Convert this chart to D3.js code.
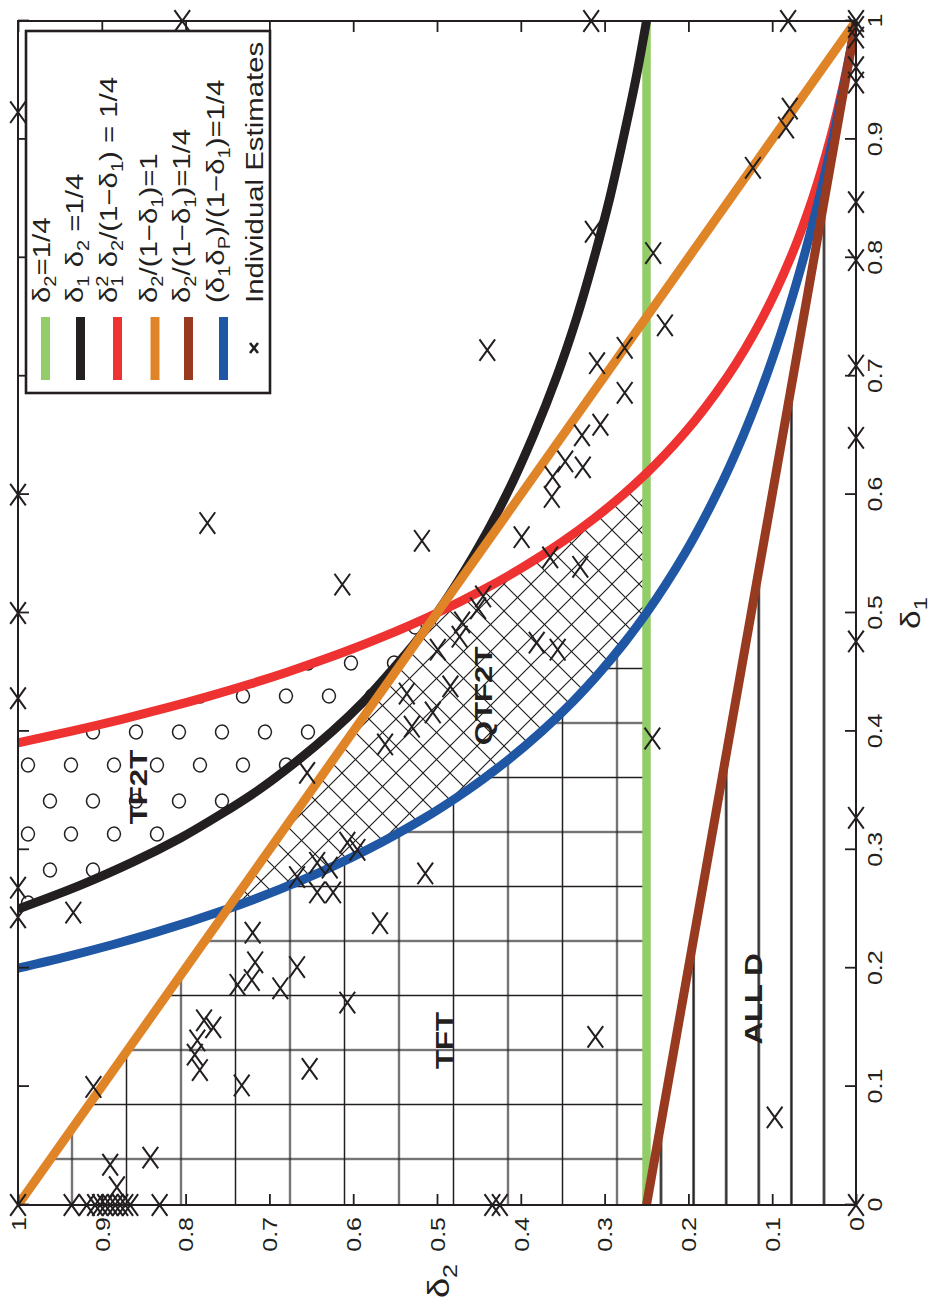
<!DOCTYPE html>
<html><head><meta charset="utf-8">
<script src="https://cdn.jsdelivr.net/npm/d3@7"></script>
<style>
body{margin:0;background:#fff}
svg{display:block}
text{font-family:"Liberation Sans",Arial,Helvetica,sans-serif;fill:#231f20}
</style>
</head><body>
<svg id="c" width="931" height="1302"></svg>
<script>
// ---------- data ----------
const delta1Ticks = [0,0.1,0.2,0.3,0.4,0.5,0.6,0.7,0.8,0.9,1];
const delta2Ticks = [0,0.1,0.2,0.3,0.4,0.5,0.6,0.7,0.8,0.9,1];
const tickLabels = ["0","0.1","0.2","0.3","0.4","0.5","0.6","0.7","0.8","0.9","1"];

// curves as [delta1, delta2]
const greenCurve = [[0,0.25],[1,0.25]];
const blackCurve = [[0.25,1],[0.27,0.926],[0.29,0.862],[0.31,0.806],[0.33,0.758],[0.35,0.714],[0.375,0.667],[0.40,0.625],[0.425,0.588],[0.45,0.556],[0.475,0.526],[0.50,0.5],[0.55,0.455],[0.60,0.417],[0.65,0.385],[0.70,0.357],[0.75,0.333],[0.80,0.3125],[0.85,0.294],[0.90,0.278],[0.95,0.263],[1,0.25]];
const redCurve = [[0.3904,1],[0.40,0.9375],[0.41,0.8775],[0.42,0.822],[0.43,0.7707],[0.44,0.7231],[0.45,0.679],[0.46,0.638],[0.47,0.5998],[0.48,0.5642],[0.49,0.531],[0.50,0.5],[0.52,0.4438],[0.54,0.3944],[0.56,0.3508],[0.58,0.3121],[0.60,0.2778],[0.618,0.25],[0.65,0.2071],[0.70,0.1531],[0.75,0.1111],[0.80,0.0781],[0.85,0.0519],[0.90,0.0309],[0.95,0.0139],[1,0]];
const orangeCurve = [[0,1],[1,0]];
const brownCurve = [[0,0.25],[1,0]];
const blueCurve = [[0.20,1],[0.21,0.9405],[0.22,0.8864],[0.23,0.837],[0.25,0.75],[0.275,0.659],[0.30,0.5833],[0.325,0.5192],[0.35,0.4643],[0.375,0.4167],[0.40,0.375],[0.425,0.3382],[0.45,0.3056],[0.475,0.2763],[0.50,0.25],[0.55,0.2045],[0.60,0.1667],[0.65,0.1346],[0.70,0.1071],[0.75,0.0833],[0.80,0.0625],[0.85,0.0441],[0.90,0.0278],[0.95,0.0132],[1,0]];

const curveColors = {green:"#93cd6a", black:"#231f20", red:"#ee3131", orange:"#e08428", brown:"#973a1f", blue:"#1f57a5"};

// individual estimates [delta1, delta2]
const estimates = [
 [0.923,1],[1,0.804],[1,0.316],[1,0.081],[1,0],[0.995,0],[0.986,0],[0.961,0],[0.948,0],[0.847,0],[0.798,0],[0.709,0],[0.648,0],[0.476,0],[0.327,0],[0,0],
 [0.600,1],[0.500,1],[0.428,1],[0.268,1],[0.243,1],[0,1],
 [0,0.936],[0,0.918],[0,0.908],[0,0.902],[0,0.896],[0,0.890],[0,0.884],[0,0.878],[0,0.872],[0,0.866],[0,0.831],[0,0.434],[0,0.425],
 [0.822,0.314],[0.926,0.079],[0.910,0.0835],[0.876,0.123],[0.804,0.242],[0.743,0.228],
 [0.724,0.276],[0.686,0.276],[0.576,0.774],[0.722,0.440],[0.711,0.309],[0.659,0.305],[0.650,0.327],[0.628,0.347],[0.623,0.326],
 [0.615,0.362],[0.598,0.363],[0.561,0.518],[0.564,0.399],[0.524,0.613],[0.547,0.365],[0.539,0.329],[0.514,0.445],[0.504,0.451],
 [0.492,0.470],[0.480,0.473],[0.469,0.499],[0.475,0.381],[0.469,0.356],[0.394,0.243],[0.432,0.536],[0.404,0.530],[0.389,0.562],
 [0.416,0.505],[0.438,0.484],[0.300,0.595],[0.285,0.628],[0.306,0.607],[0.289,0.643],[0.264,0.643],[0.264,0.624],[0.280,0.514],
 [0.238,0.568],[0.365,0.655],[0.247,0.934],[0.230,0.720],[0.205,0.717],[0.201,0.667],[0.186,0.738],[0.190,0.721],[0.183,0.687],
 [0.156,0.778],[0.150,0.767],[0.139,0.786],[0.127,0.789],[0.114,0.783],[0.101,0.733],[0.0997,0.910],[0.034,0.890],[0.015,0.882],
 [0.040,0.842],[0.171,0.607],[0.142,0.311],[0.115,0.652],[0.074,0.097],[0.277,0.667]
];

const legendLabels = ["δ2=1/4","δ1 δ2 =1/4","δ1² δ2/(1−δ1) = 1/4","δ2/(1−δ1)=1","δ2/(1−δ1)=1/4","(δ1δP)/(1−δ1)=1/4","Individual Estimates"];
const regionLabels = [{t:"TF2T",d1:0.353,d2:0.846},{t:"QTF2T",d1:0.43,d2:0.434},{t:"TFT",d1:0.139,d2:0.481},{t:"ALL D",d1:0.174,d2:0.112}];

// ---------- layout ----------
const W = 1184, H = 838, S = 1.25; // S: stretch of text along its reading direction (reference is stretched)
const x = d3.scaleLinear().domain([0,1]).range([0,W]);
const y = d3.scaleLinear().domain([0,1]).range([H,0]);
const svg = d3.select("#c");
const defs = svg.append("defs");
const g = svg.append("g").attr("transform","translate(18,1205) rotate(-90)");

defs.append("clipPath").attr("id","plotclip").append("rect").attr("x",0).attr("y",0).attr("width",W).attr("height",H);

// hatch patterns (user space = rotated group coords)
const grid = defs.append("pattern").attr("id","pGrid").attr("patternUnits","userSpaceOnUse")
  .attr("x",46-27.25).attr("y",54-27.25).attr("width",54.5).attr("height",54.5);
grid.append("path").attr("d","M27.25,0V54.5M0,27.25H54.5").attr("stroke","#231f20").attr("stroke-width",1.5).attr("fill","none");

const cross = defs.append("pattern").attr("id","pCross").attr("patternUnits","userSpaceOnUse")
  .attr("x",0).attr("y",0).attr("width",27).attr("height",27);
cross.append("path").attr("d","M0,0L27,27M0,27L27,0M-2,25L2,29M25,-2L29,2M-2,2L2,-2M25,29L29,25").attr("stroke","#231f20").attr("stroke-width",1.2).attr("fill","none");

const circ = defs.append("pattern").attr("id","pCirc").attr("patternUnits","userSpaceOnUse")
  .attr("x",0).attr("y",0).attr("width",69).attr("height",43);
[[59,32],[26,10]].forEach(c=>circ.append("ellipse").attr("cx",c[0]).attr("cy",c[1]).attr("rx",7).attr("ry",6.4)
  .attr("fill","none").attr("stroke","#231f20").attr("stroke-width",1.5));

const hl = defs.append("pattern").attr("id","pLines").attr("patternUnits","userSpaceOnUse")
  .attr("x",0).attr("y",643-16.3).attr("width",20).attr("height",32.6);
hl.append("path").attr("d","M0,16.3H20").attr("stroke","#231f20").attr("stroke-width",2.4);

const plot = g.append("g").attr("clip-path","url(#plotclip)");
const poly = d3.line().x(d=>x(d[0])).y(d=>y(d[1]));

// regions built from the curve data
const tf2t = blackCurve.filter(d=>d[0]<=0.5).concat(redCurve.filter(d=>d[0]<=0.5).slice().reverse());
const qtf2t = redCurve.filter(d=>d[0]>=0.5 && d[0]<=0.618).concat(blueCurve.filter(d=>d[0]>=0.25 && d[0]<=0.5).slice().reverse());
const tft = [orangeCurve[0]].concat(blueCurve.filter(d=>d[0]>=0.25 && d[0]<=0.5)).concat([greenCurve[0]]);
const alld = brownCurve.concat([[0,0]]);
[[tft,"pGrid"],[qtf2t,"pCross"],[tf2t,"pCirc"],[alld,"pLines"]].forEach(r=>{
  plot.append("path").attr("d",poly(r[0])+"Z").attr("fill",`url(#${r[1]})`);
});

// curves
const line = d3.line().x(d=>x(d[0])).y(d=>y(d[1])).curve(d3.curveMonotoneX);
[[greenCurve,"green",8.5],[blackCurve,"black",9],[redCurve,"red",9],[blueCurve,"blue",9],[orangeCurve,"orange",9],[brownCurve,"brown",9]].forEach(c=>{
  plot.append("path").attr("d",line(c[0])).attr("fill","none").attr("stroke",curveColors[c[1]]).attr("stroke-width",c[2]);
});

// axes
const fs = 20;
const axB = g.append("g").attr("transform",`translate(0,${H})`)
  .call(d3.axisBottom(x).tickValues(delta1Ticks).tickFormat((d,i)=>tickLabels[i]).tickSizeInner(-11).tickSizeOuter(0).tickPadding(12));
const axL = g.append("g")
  .call(d3.axisLeft(y).tickValues(delta2Ticks).tickFormat((d,i)=>tickLabels[i]).tickSizeInner(-11).tickSizeOuter(0).tickPadding(12));
const axT = g.append("g").call(d3.axisTop(x).tickValues(delta1Ticks).tickFormat("").tickSizeInner(-11).tickSizeOuter(0));
const axR = g.append("g").attr("transform",`translate(${W},0)`).call(d3.axisRight(y).tickValues(delta2Ticks).tickFormat("").tickSizeInner(-11).tickSizeOuter(0));
[axB,axL,axT,axR].forEach(a=>{
  a.selectAll("line").attr("stroke","#231f20").attr("stroke-width",1.8);
  a.select(".domain").remove();
});
axB.selectAll("text").attr("font-size",fs).attr("fill","#231f20").attr("y",0).attr("dy",0)
  .attr("transform",`translate(0,${11+14.5}) scale(${S},1)`);
axL.selectAll("text").attr("font-size",fs).attr("fill","#231f20").attr("x",0).attr("dy","0.36em")
  .attr("transform",`translate(-12,0) scale(${S},1)`);
g.append("rect").attr("x",0).attr("y",0).attr("width",W).attr("height",H).attr("fill","none").attr("stroke","#231f20").attr("stroke-width",2);

// axis titles
const t1 = g.append("text").attr("transform",`translate(${x(0.5)},${H+64}) scale(${S},1)`).attr("text-anchor","middle").attr("font-size",27);
t1.append("tspan").text("δ");
t1.append("tspan").attr("font-size",19).attr("dy",7).text("1");
const t2 = g.append("text").attr("transform",`translate(-76,${y(0.5)+12}) scale(${S},1)`).attr("text-anchor","middle").attr("font-size",29);
t2.append("tspan").text("δ");
t2.append("tspan").attr("font-size",20).attr("dy",8).text("2");

// region labels
regionLabels.forEach(r=>{
  g.append("text").attr("transform",`translate(${x(r.d1)},${y(r.d2)}) scale(1.3,1)`).attr("text-anchor","middle")
   .attr("font-size",24).attr("font-weight","bold").text(r.t);
});

// markers
const mk = "M-10.8,-7.8L10.8,7.8M-10.8,7.8L10.8,-7.8";
g.append("g").selectAll("path").data(estimates).join("path")
  .attr("transform",d=>`translate(${x(d[0])},${y(d[1])})`).attr("d",mk)
  .attr("stroke","#231f20").attr("stroke-width",2).attr("fill","none");

// legend
const lg = g.append("g");
lg.append("rect").attr("x",812).attr("y",8).attr("width",362).attr("height",244).attr("fill","#fff").attr("stroke","#231f20").attr("stroke-width",2.6);
const rowBase = [32,65,99,139,172,206,245];
const rowCenter = [27.5,62.5,99.5,137,170.5,205.5,236];
const sw = ["green","black","red","orange","brown","blue"];
sw.forEach((c,i)=>{
  lg.append("line").attr("x1",825).attr("x2",888).attr("y1",rowCenter[i]).attr("y2",rowCenter[i])
    .attr("stroke",curveColors[c]).attr("stroke-width",9);
});
lg.append("path").attr("transform",`translate(857,${rowCenter[6]})`).attr("d","M-5,-4L5,4M-5,4L5,-4").attr("stroke","#231f20").attr("stroke-width",2.6);

function rich(t, parts){
  parts.forEach(p=>{
    if(p[0]==="n") t.append("tspan").text(p[1]);
    else if(p[0]==="s") t.append("tspan").attr("font-size",16).attr("dy",6).text(p[1]);
    else if(p[0]==="u") t.append("tspan").attr("font-size",16).attr("dy",-9).text(p[1]);
    else if(p[0]==="r") t.append("tspan").attr("dy",p[1]).text(p[2]);
    else if(p[0]==="k") t.append("tspan").attr("font-size",16).attr("dx",p[1]).attr("dy",p[2]).text(p[3]);
  });
}
const legendParts = [
  [["n","δ"],["s","2"],["r",-6,"=1/4"]],
  [["n","δ"],["s","1"],["r",-6," δ"],["s","2"],["r",-6," =1/4"]],
  [["n","δ"],["u","2"],["k",-8.9,15,"1"],["r",-6," δ"],["s","2"],["r",-6,"/(1−δ"],["s","1"],["r",-6,") = 1/4"]],
  [["n","δ"],["s","2"],["r",-6,"/(1−δ"],["s","1"],["r",-6,")=1"]],
  [["n","δ"],["s","2"],["r",-6,"/(1−δ"],["s","1"],["r",-6,")=1/4"]],
  [["n","(δ"],["s","1"],["r",-6,"δ"],["s","P"],["r",-6,")/(1−δ"],["s","1"],["r",-6,")=1/4"]],
  [["n",legendLabels[6]]]
];
legendParts.forEach((p,i)=>{
  const t = lg.append("text").attr("transform",`translate(902,${rowBase[i]}) scale(${S},1)`).attr("font-size",23.5);
  rich(t,p);
});
</script>
</body></html>
